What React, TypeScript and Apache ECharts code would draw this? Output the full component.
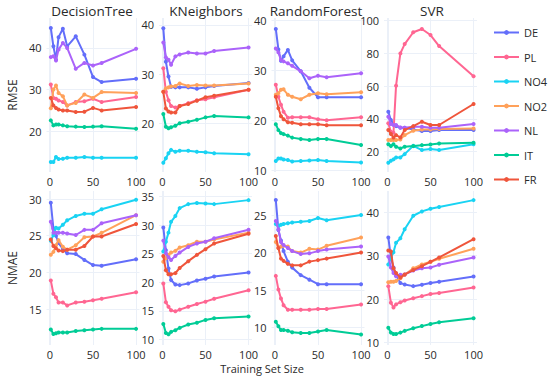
import React, { useEffect, useRef } from 'react';
import * as echarts from 'echarts';

const trainingSizes = [1, 4, 7, 10, 15, 20, 30, 40, 50, 60, 100];
const countries = ['DE', 'PL', 'NO4', 'NO2', 'NL', 'IT', 'FR'];
const countryColors = ['#636EFA', '#FF6692', '#19D3F3', '#FFA15A', '#AB63FA', '#00CC96', '#EF553B'];
const models = ['DecisionTree', 'KNeighbors', 'RandomForest', 'SVR'];
const metrics = ['RMSE', 'NMAE'];
const xTicks = [0, 50, 100];
const rmseTicks = [[20, 30, 40], [20, 30, 40], [10, 20, 30, 40], [20, 40, 60, 80, 100]];
const nmaeTicks = [[15, 20, 25, 30], [10, 15, 20, 25, 30, 35], [10, 15, 20, 25], [10, 20, 30, 40]];

// RMSE — DecisionTree
const dtRmseDE = [44.8, 40.4, 37.2, 42.6, 44.6, 40.4, 42.8, 38.4, 33.0, 31.8, 32.6];
const dtRmsePL = [31.2, 28.0, 27.8, 27.4, 27.0, 26.2, 27.0, 27.2, 27.8, 27.0, 28.2];
const dtRmseNO4 = [12.6, 12.6, 13.8, 13.3, 13.4, 13.6, 13.6, 13.8, 13.6, 13.6, 13.6];
const dtRmseNO2 = [25.5, 30.0, 31.0, 29.2, 28.4, 26.2, 26.8, 28.8, 28.0, 29.4, 29.2];
const dtRmseNL = [37.8, 38.0, 37.0, 39.6, 41.2, 40.0, 35.0, 36.4, 35.8, 36.4, 39.8];
const dtRmseIT = [22.6, 21.4, 21.6, 21.6, 21.4, 21.2, 21.1, 21.0, 21.1, 21.2, 20.6];
const dtRmseFR = [28.0, 26.2, 25.6, 25.2, 25.0, 25.0, 24.6, 24.7, 25.6, 25.0, 25.8];
// RMSE — KNeighbors
const knRmseDE = [39.3, 32.5, 29.5, 27.4, 27.3, 27.3, 27.3, 27.0, 27.3, 27.6, 28.2];
const knRmsePL = [31.2, 26.4, 24.7, 23.5, 23.2, 23.5, 24.1, 24.7, 24.9, 25.3, 26.8];
const knRmseNO4 = [12.0, 12.9, 13.9, 14.6, 14.2, 14.4, 14.4, 14.2, 14.1, 13.9, 13.7];
const knRmseNO2 = [26.4, 27.1, 27.3, 27.5, 27.6, 28.1, 27.6, 27.8, 27.7, 27.7, 28.1];
const knRmseNL = [36.4, 33.4, 32.9, 31.9, 33.6, 34.0, 34.4, 34.2, 34.2, 34.7, 35.4];
const knRmseIT = [21.9, 19.3, 19.0, 19.2, 19.5, 20.0, 20.3, 20.7, 21.2, 21.5, 21.2];
const knRmseFR = [26.4, 23.0, 22.4, 22.2, 22.2, 23.5, 23.9, 24.6, 25.3, 25.6, 26.8];
// RMSE — RandomForest
const rfRmseDE = [38.3, 34.2, 31.9, 32.8, 34.1, 32.0, 29.8, 26.5, 24.6, 24.6, 24.6];
const rfRmsePL = [27.1, 24.7, 23.1, 21.7, 20.5, 20.6, 20.6, 20.6, 20.2, 20.0, 20.6];
const rfRmseNO4 = [11.8, 12.3, 12.3, 12.1, 12.0, 11.7, 11.8, 11.9, 12.0, 11.8, 11.5];
const rfRmseNO2 = [25.1, 25.4, 26.1, 26.2, 25.1, 24.7, 24.2, 25.1, 25.4, 25.2, 25.6];
const rfRmseNL = [34.4, 33.6, 32.1, 31.8, 31.4, 30.9, 29.8, 28.4, 28.9, 28.6, 29.4];
const rfRmseIT = [19.2, 18.0, 17.4, 17.2, 16.9, 16.5, 16.2, 16.0, 16.2, 16.2, 15.0];
const rfRmseFR = [24.7, 22.4, 20.8, 20.2, 19.6, 19.5, 19.2, 19.2, 19.2, 19.0, 19.0];
// RMSE — SVR
const svrRmseDE = [44.4, 39.3, 36.9, 35.6, 34.6, 34.6, 33.6, 32.6, 32.6, 33.2, 33.2];
const svrRmsePL = [37.3, 32.2, 31.6, 60.3, 80.0, 85.7, 92.9, 94.9, 91.2, 84.5, 66.0];
const svrRmseNO4 = [13.2, 14.5, 15.3, 16.5, 16.5, 18.5, 23.6, 21.0, 21.6, 21.0, 24.6];
const svrRmseNO2 = [27.1, 27.1, 27.1, 27.1, 27.5, 30.1, 32.8, 33.6, 33.6, 33.8, 34.2];
const svrRmseNL = [41.3, 36.9, 36.3, 36.3, 34.8, 34.6, 35.2, 35.2, 34.6, 34.6, 36.9];
const svrRmseIT = [24.6, 23.4, 24.6, 23.0, 22.0, 23.0, 23.4, 24.0, 24.4, 25.0, 25.5];
const svrRmseFR = [33.2, 30.8, 28.7, 30.1, 28.7, 33.2, 35.6, 38.3, 36.3, 36.3, 49.1];
// NMAE — DecisionTree
const dtNmaeDE = [29.5, 26.0, 25.0, 24.0, 23.2, 22.6, 22.5, 21.7, 21.0, 20.9, 21.8];
const dtNmaePL = [18.9, 17.1, 16.6, 15.9, 15.9, 15.5, 15.9, 16.0, 16.2, 16.4, 17.3];
const dtNmaeNO4 = [24.3, 25.1, 26.1, 26.0, 26.5, 27.1, 27.7, 28.0, 28.0, 28.6, 29.9];
const dtNmaeNO2 = [22.4, 22.8, 23.7, 24.4, 23.5, 23.1, 23.7, 24.8, 24.9, 25.4, 27.8];
const dtNmaeNL = [26.9, 25.4, 25.4, 25.4, 25.4, 25.3, 25.1, 25.8, 25.8, 26.7, 27.8];
const dtNmaeIT = [12.2, 11.6, 11.7, 11.8, 11.8, 11.8, 12.0, 12.1, 12.2, 12.3, 12.3];
const dtNmaeFR = [24.5, 23.6, 23.3, 23.0, 22.9, 23.1, 23.1, 23.6, 24.9, 24.9, 26.6];
// NMAE — KNeighbors
const knNmaeDE = [29.6, 25.6, 22.4, 20.4, 19.6, 19.5, 19.8, 20.3, 20.6, 21.0, 21.7];
const knNmaePL = [19.8, 16.5, 15.7, 15.1, 14.9, 15.2, 15.7, 16.2, 16.6, 17.1, 18.6];
const knNmaeNO4 = [25.4, 27.1, 28.7, 30.6, 31.6, 33.0, 33.7, 33.9, 33.8, 33.7, 34.4];
const knNmaeNO2 = [23.6, 24.2, 24.8, 25.2, 25.5, 26.1, 26.5, 27.1, 27.1, 27.5, 28.7];
const knNmaeNL = [27.3, 25.1, 24.4, 23.9, 24.6, 25.2, 26.2, 26.8, 27.1, 27.7, 29.2];
const knNmaeIT = [12.7, 11.1, 10.9, 11.3, 11.6, 12.0, 12.6, 12.9, 13.4, 13.7, 14.0];
const knNmaeFR = [24.6, 22.1, 21.4, 21.4, 21.6, 22.5, 23.7, 24.8, 25.8, 26.8, 28.5];
// NMAE — RandomForest
const rfNmaeDE = [27.0, 23.0, 21.6, 20.2, 18.8, 18.0, 17.0, 16.4, 15.8, 15.8, 15.8];
const rfNmaePL = [16.9, 15.1, 13.9, 13.0, 12.4, 12.4, 12.4, 12.4, 12.5, 12.5, 13.1];
const rfNmaeNO4 = [23.8, 23.5, 23.7, 23.8, 23.9, 24.0, 24.1, 24.2, 24.6, 24.3, 25.0];
const rfNmaeNO2 = [21.4, 20.6, 20.8, 20.9, 20.8, 20.2, 20.0, 20.5, 20.4, 20.9, 22.0];
const rfNmaeNL = [24.2, 23.1, 21.4, 21.0, 20.6, 20.2, 19.8, 19.9, 20.2, 20.4, 20.8];
const rfNmaeIT = [10.8, 10.2, 9.7, 9.7, 9.6, 9.4, 9.3, 9.3, 9.5, 9.7, 9.1];
const rfNmaeFR = [22.2, 20.6, 19.2, 18.9, 18.5, 18.3, 18.3, 18.8, 19.0, 19.2, 20.0];
// NMAE — SVR
const svrNmaeDE = [34.2, 29.6, 27.3, 25.6, 23.7, 23.4, 23.0, 23.3, 23.7, 24.0, 25.2];
const svrNmaePL = [23.0, 19.2, 18.1, 18.8, 19.3, 19.7, 20.2, 20.7, 21.2, 21.4, 22.7];
const svrNmaeNO4 = [28.0, 29.5, 30.8, 33.0, 34.0, 36.1, 39.2, 40.2, 40.8, 41.2, 42.8];
const svrNmaeNO2 = [23.9, 24.0, 24.0, 24.2, 24.8, 25.6, 27.1, 28.0, 28.6, 29.3, 31.6];
const svrNmaeNL = [29.8, 27.3, 26.0, 25.3, 25.6, 25.7, 26.6, 27.1, 27.3, 27.9, 29.6];
const svrNmaeIT = [13.4, 12.3, 12.0, 12.0, 12.3, 12.7, 13.3, 13.8, 14.3, 14.7, 15.6];
const svrNmaeFR = [31.2, 31.0, 27.1, 26.0, 25.0, 25.7, 26.7, 27.6, 28.6, 29.6, 33.8];

const panelSeries = [
  [dtRmseDE, dtRmsePL, dtRmseNO4, dtRmseNO2, dtRmseNL, dtRmseIT, dtRmseFR],
  [knRmseDE, knRmsePL, knRmseNO4, knRmseNO2, knRmseNL, knRmseIT, knRmseFR],
  [rfRmseDE, rfRmsePL, rfRmseNO4, rfRmseNO2, rfRmseNL, rfRmseIT, rfRmseFR],
  [svrRmseDE, svrRmsePL, svrRmseNO4, svrRmseNO2, svrRmseNL, svrRmseIT, svrRmseFR],
  [dtNmaeDE, dtNmaePL, dtNmaeNO4, dtNmaeNO2, dtNmaeNL, dtNmaeIT, dtNmaeFR],
  [knNmaeDE, knNmaePL, knNmaeNO4, knNmaeNO2, knNmaeNL, knNmaeIT, knNmaeFR],
  [rfNmaeDE, rfNmaePL, rfNmaeNO4, rfNmaeNO2, rfNmaeNL, rfNmaeIT, rfNmaeFR],
  [svrNmaeDE, svrNmaePL, svrNmaeNO4, svrNmaeNO2, svrNmaeNL, svrNmaeIT, svrNmaeFR],
];

const yRanges = [
  [10.2, 47.2], [10.1, 41.4], [9.6, 40.5], [7.6, 101.6],
  [10.1, 31.1], [9.0, 36.0], [7.7, 28.2], [9.45, 44.9],
];

const TEXT = '#2a2a2a';
const GRID = '#EBF0F8';
const FONT = '"Open Sans", sans-serif';

export default function App() {
  const ref = useRef<HTMLDivElement>(null);
  useEffect(() => {
    if (!ref.current) return;
    const chart = echarts.init(ref.current, undefined, { renderer: 'svg' });
    const colLeft = [46.5, 159, 271.5, 384];
    const rowTop = [18, 191];
    const W = 93;
    const H = 154;
    const grids: any[] = [];
    const xAxes: any[] = [];
    const yAxes: any[] = [];
    const series: any[] = [];
    for (let p = 0; p < 8; p++) {
      const r = Math.floor(p / 4);
      const c = p % 4;
      grids.push({ left: colLeft[c], top: rowTop[r], width: W, height: H, containLabel: false });
      xAxes.push({
        type: 'value', gridIndex: p, min: -4, max: 104,
        axisLine: { show: false },
        axisTick: { show: false, customValues: xTicks },
        axisLabel: { customValues: xTicks, color: TEXT, fontSize: 11, fontFamily: FONT, margin: 4 },
        splitLine: { show: true, lineStyle: { color: GRID, width: 1 } },
      });
      const ticks = r === 0 ? rmseTicks[c] : nmaeTicks[c];
      yAxes.push({
        type: 'value', gridIndex: p, min: yRanges[p][0], max: yRanges[p][1],
        axisLine: { show: false },
        axisTick: { show: false, customValues: ticks },
        axisLabel: { customValues: ticks, color: TEXT, fontSize: 11, fontFamily: FONT, margin: 5 },
        splitLine: { show: true, lineStyle: { color: GRID, width: 1 } },
      });
      panelSeries[p].forEach((vals, k) => {
        series.push({
          type: 'line', name: countries[k], xAxisIndex: p, yAxisIndex: p,
          data: trainingSizes.map((x, i) => [x, vals[i]]),
          color: countryColors[k],
          symbol: 'circle', symbolSize: 4, showSymbol: true,
          lineStyle: { width: 2, color: countryColors[k] },
          itemStyle: { color: countryColors[k] },
          emphasis: { disabled: true },
          z: 3 + k,
          markLine: k === 0 ? {
            silent: true, symbol: 'none', label: { show: false },
            lineStyle: { color: GRID, width: 2, type: 'solid' },
            data: [{ xAxis: 0 }], z: 1,
          } : undefined,
        });
      });
    }
    const graphics: any[] = [];
    const titleX = [92, 206, 316, 432];
    models.forEach((m, c) => {
      graphics.push({
        type: 'text', x: titleX[c], y: 11,
        style: { text: m, fontSize: 13.5, fontFamily: FONT, fill: TEXT, textAlign: 'center', textVerticalAlign: 'middle' },
      });
    });
    metrics.forEach((m, r) => {
      graphics.push({
        type: 'text', x: 12, y: rowTop[r] + H / 2, rotation: Math.PI / 2,
        style: { text: m, fontSize: 12, fontFamily: FONT, fill: TEXT, textAlign: 'center', textVerticalAlign: 'middle' },
      });
    });
    graphics.push({
      type: 'text', x: 262, y: 368,
      style: { text: 'Training Set Size', fontSize: 11, fontFamily: FONT, fill: TEXT, textAlign: 'center', textVerticalAlign: 'middle' },
    });
    chart.setOption({
      animation: false,
      backgroundColor: '#ffffff',
      grid: grids,
      xAxis: xAxes,
      yAxis: yAxes,
      series,
      graphic: graphics,
      legend: {
        data: countries,
        orient: 'vertical', left: 493, top: 27, padding: 0,
        itemWidth: 25, itemHeight: 6, itemGap: 13.5,
        textStyle: { color: TEXT, fontSize: 11, fontFamily: FONT },
        selectedMode: false,
      },
    });
    return () => chart.dispose();
  }, []);
  return <div ref={ref} style={{ position: 'fixed', left: 0, top: 0, width: 550, height: 377 }} />;
}
